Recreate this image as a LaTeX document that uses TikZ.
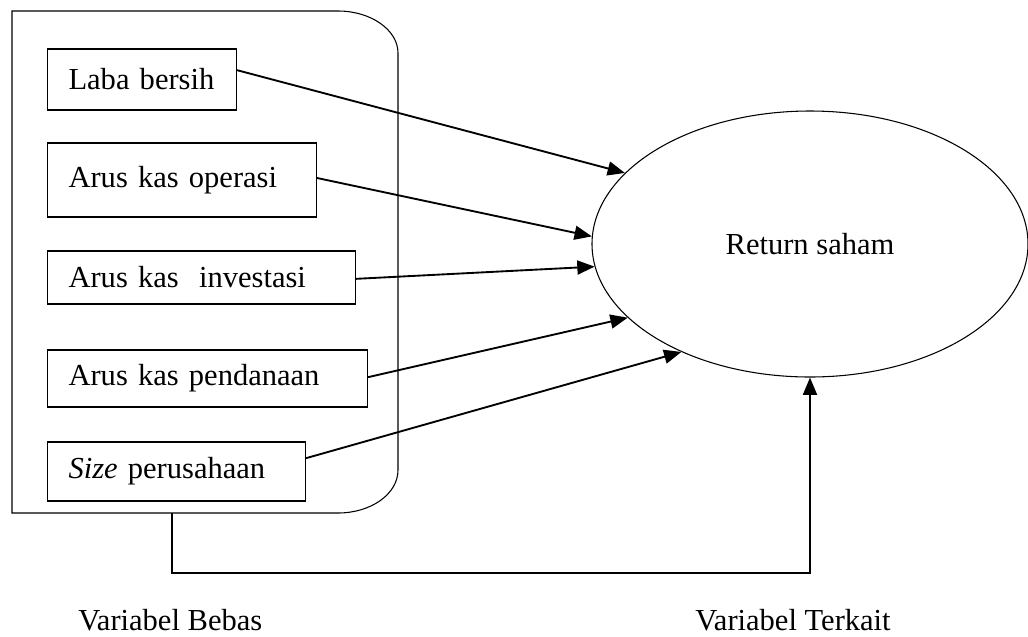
\documentclass[tikz,border=0pt]{standalone}
\usepackage{fontspec}
\setmainfont{Liberation Serif}
\usetikzlibrary{arrows.meta,shapes.geometric}
\begin{document}
\begin{tikzpicture}[x=0.75pt,y=-0.75pt,
  vbox/.style={draw,line width=0.8pt,anchor=west,inner xsep=15.75pt,inner ysep=0pt,align=left,
    font=\fontsize{22.9}{26}\selectfont},
  arr/.style={line width=1.4pt,-{Triangle[length=13pt,width=10.5pt]}},
  lbl/.style={font=\fontsize{22.9}{26}\selectfont,anchor=base west,inner sep=0pt}]
\useasboundingbox (0,0) rectangle (1028,636);
% container
\draw[line width=0.8pt] (12,513) -- (12,11) -- (338,11)
  .. controls (371,11) and (398,30) .. (398,53) -- (398,470)
  .. controls (398,494) and (371,513) .. (338,513) -- cycle;
\coordinate (cb) at (172,513);
% boxes
\node[vbox,text width=110.25pt,minimum height=45.75pt] (b1) at (47,79.5) {Laba bersih};
\node[vbox,text width=170.25pt,minimum height=55.5pt] (b2) at (47,180) {Arus kas operasi};
\node[vbox,text width=199.5pt,minimum height=39.75pt] (b3) at (47,277.5) {Arus kas~ investasi};
\node[vbox,text width=208.5pt,minimum height=42.75pt] (b4) at (47,378.5) {Arus kas pendanaan};
\node[vbox,text width=162pt,minimum height=44.25pt] (b5) at (47,471.5) {\textit{Size} perusahaan};
% ellipse
\node[draw,ellipse,line width=0.8pt,minimum width=327pt,minimum height=199.5pt,inner sep=0pt,
  font=\fontsize{22.9}{26}\selectfont] (ret) at (810,244) {Return saham};
% arrows
\draw[arr] ([yshift=7pt]b1.east) -- (ret.159.6);
\draw[arr] ([yshift=1.5pt]b2.east) -- (ret.178.3);
\draw[arr] ([yshift=-1pt]b3.east) -- (ret.186.5);
\draw[arr] ([yshift=1pt]b4.east) -- (ret.202.3);
\draw[arr] ([yshift=10pt]b5.east) -- (ret.220.3);
\draw[arr] (cb) -- ++(0,60) -| (ret.south);
% labels
\node[lbl] (lb) at (78,630) {Variabel Bebas};
\node[lbl] (lt) at (695,630) {Variabel Terkait};
\end{tikzpicture}
\end{document}
